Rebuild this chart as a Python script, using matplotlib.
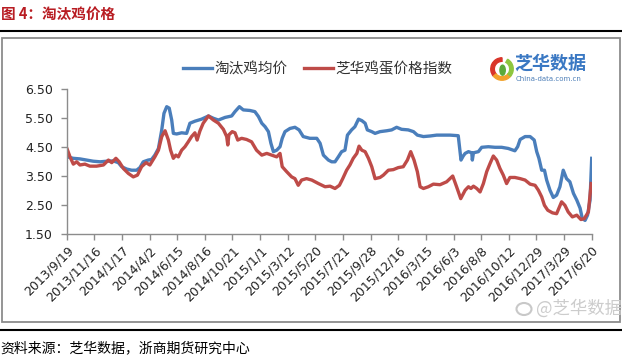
import matplotlib
matplotlib.use("Agg")
import matplotlib.pyplot as plt
from matplotlib.patches import Rectangle, Wedge, Ellipse
from matplotlib.lines import Line2D

plt.rcParams['font.family'] = ['Noto Sans CJK SC', 'DejaVu Sans']

# category labels on the x axis (one tick per label)
dates = ['2013/9/19', '2013/11/16', '2014/1/17', '2014/4/2', '2014/6/15',
         '2014/8/16', '2014/10/21', '2015/1/1', '2015/3/12', '2015/5/20',
         '2015/7/21', '2015/9/28', '2015/12/16', '2016/3/15', '2016/6/3',
         '2016/8/8', '2016/10/12', '2016/12/29', '2017/3/29', '2017/6/20']

# series, x given in label positions (0 = first label)
blue_x = [0.02, 0.24, 0.48, 0.72, 0.96, 1.21, 1.45, 1.69, 1.87, 1.99, 2.17, 2.35,
          2.53, 2.65, 2.77, 2.95, 3.07, 3.19, 3.32, 3.44, 3.52, 3.62, 3.71, 3.80,
          3.86, 3.98, 4.16, 4.34, 4.46, 4.64, 4.88, 5.13, 5.31, 5.49, 5.73, 5.97,
          6.09, 6.25, 6.39, 6.63, 6.81, 6.94, 7.06, 7.18, 7.30, 7.39, 7.48, 7.60,
          7.72, 7.80, 7.90, 8.08, 8.26, 8.41, 8.56, 8.80, 9.05, 9.17, 9.29, 9.47,
          9.59, 9.71, 9.83, 9.95, 10.07, 10.16, 10.31, 10.43, 10.56, 10.68, 10.80,
          10.88, 11.04, 11.16, 11.34, 11.58, 11.76, 11.94, 12.12, 12.36, 12.55,
          12.69, 12.91, 13.15, 13.39, 13.63, 13.87, 14.17, 14.23, 14.27, 14.35,
          14.42, 14.54, 14.66, 14.68, 14.72, 14.90, 15.02, 15.26, 15.50, 15.74,
          15.98, 16.22, 16.32, 16.41, 16.59, 16.77, 16.92, 17.01, 17.09, 17.19,
          17.29, 17.37, 17.49, 17.61, 17.73, 17.85, 17.97, 18.09, 18.21, 18.34,
          18.46, 18.58, 18.66, 18.76, 18.85, 18.94, 19.00]
blue_y = [4.17, 4.12, 4.10, 4.06, 4.02, 4.00, 4.02, 4.03, 3.97, 3.83, 3.75, 3.71,
          3.71, 3.80, 4.00, 4.06, 4.08, 4.23, 4.46, 5.10, 5.67, 5.90, 5.85, 5.44,
          4.98, 4.96, 5.00, 4.98, 5.33, 5.40, 5.47, 5.58, 5.50, 5.44, 5.53, 5.58,
          5.73, 5.90, 5.79, 5.77, 5.73, 5.56, 5.33, 5.21, 5.04, 4.64, 4.35, 4.40,
          4.52, 4.81, 5.04, 5.15, 5.19, 5.10, 4.87, 4.81, 4.81, 4.64, 4.23, 4.06,
          4.00, 4.00, 4.17, 4.35, 4.40, 4.92, 5.10, 5.21, 5.47, 5.42, 5.33,
          5.10, 5.04, 4.98, 5.04, 5.07, 5.10, 5.19, 5.12, 5.10, 5.04,
          4.92, 4.87, 4.89, 4.92, 4.92, 4.92, 4.90, 4.40, 4.06, 4.20,
          4.29, 4.35, 4.31, 4.06, 4.31, 4.35, 4.50, 4.52, 4.50, 4.50,
          4.46, 4.38, 4.52, 4.77, 4.87, 4.87, 4.75, 4.35, 4.12, 3.71,
          3.71, 3.37, 3.02, 2.77, 2.85, 3.14, 3.71, 3.42, 3.31, 2.91,
          2.68, 2.40, 2.04, 1.98, 2.16, 2.68, 4.12]

red_x = [0.02, 0.12, 0.24, 0.36, 0.48, 0.66, 0.84, 1.08, 1.33, 1.51, 1.63, 1.78,
         1.90, 2.05, 2.23, 2.41, 2.56, 2.71, 2.87, 3.01, 3.19, 3.32, 3.44, 3.56,
         3.68, 3.76, 3.86, 3.95, 4.04, 4.16, 4.28, 4.40, 4.52, 4.64, 4.72, 4.82,
         4.94, 5.13, 5.31, 5.49, 5.67, 5.79, 5.83, 5.87, 5.99, 6.09, 6.19, 6.33,
         6.51, 6.69, 6.87, 7.06, 7.24, 7.42, 7.60, 7.72, 7.80, 7.96, 8.14, 8.26,
         8.38, 8.50, 8.68, 8.87, 9.11, 9.35, 9.53, 9.71, 9.87, 9.99, 10.13, 10.25,
         10.37, 10.50, 10.58, 10.68, 10.80, 10.92, 11.04, 11.16, 11.34, 11.46,
         11.64, 11.82, 12.00, 12.18, 12.33, 12.45, 12.57, 12.69, 12.79, 12.91,
         13.09, 13.27, 13.51, 13.75, 13.97, 14.11, 14.26, 14.42, 14.54, 14.63,
         14.72, 14.84, 14.96, 15.08, 15.20, 15.32, 15.44, 15.56, 15.68, 15.80,
         15.92, 16.04, 16.22, 16.41, 16.59, 16.77, 16.95, 17.07, 17.19, 17.29,
         17.41, 17.58, 17.73, 17.91, 18.03, 18.15, 18.30, 18.46, 18.61, 18.73,
         18.88, 18.98]
red_y = [4.43, 4.17, 3.92, 4.00, 3.89, 3.92, 3.85, 3.85, 3.89, 4.06, 3.97, 4.12,
         4.00, 3.77, 3.60, 3.48, 3.54, 3.83, 3.97, 3.89, 4.17, 4.40, 4.87, 5.07,
         4.75, 4.40, 4.12, 4.23, 4.17, 4.40, 4.52, 4.69, 4.87, 5.00, 4.75, 5.06,
         5.33, 5.58, 5.44, 5.33, 5.12, 4.87, 4.58, 4.93, 5.04, 5.00, 4.75, 4.81,
         4.77, 4.69, 4.40, 4.23, 4.29, 4.23, 4.17, 4.29, 3.83, 3.66, 3.48, 3.42,
         3.19, 3.37, 3.42, 3.37, 3.25, 3.14, 3.16, 3.08, 3.19, 3.42, 3.71, 3.89,
         4.12, 4.29, 4.54, 4.40, 4.35, 4.12, 3.83, 3.42, 3.46, 3.54,
         3.71, 3.73, 3.80, 3.83, 4.06, 4.35, 4.06, 3.66, 3.14, 3.08,
         3.14, 3.23, 3.21, 3.31, 3.51, 3.14, 2.73, 3.02, 3.14, 3.08,
         3.16, 3.08, 2.96, 3.25, 3.66, 3.94, 4.20, 4.06, 3.77, 3.54,
         3.25, 3.46, 3.46, 3.42, 3.37, 3.23, 3.19, 3.02, 2.79, 2.50,
         2.33, 2.24, 2.21, 2.62, 2.50, 2.27, 2.10, 2.16, 2.01, 2.04,
         2.27, 3.25]

yticks = [1.5, 2.5, 3.5, 4.5, 5.5, 6.5]

W, H = 622, 360
fig = plt.figure(figsize=(W / 100, H / 100), dpi=100)

def fx(px):
    return px / W

def fy(py):
    return 1 - py / H

# title and frame lines
fig.text(fx(1), fy(14), '图 4：淘汰鸡价格', fontsize=10.5, fontweight='bold',
         color='#B81C22', va='center', ha='left')
fig.add_artist(Line2D([0, 1], [fy(31), fy(31)], color='black', lw=1.5))
fig.add_artist(Line2D([0, 1], [fy(329.5), fy(329.5)], color='black', lw=1.5))
fig.add_artist(Rectangle((fx(2), fy(322)), fx(618), (322 - 37.5) / H,
                         fill=False, edgecolor='#8c8c8c', lw=1.3))
fig.text(fx(0), fy(348), '资料来源：芝华数据，浙商期货研究中心', fontsize=10,
         color='black', va='center', ha='left')

# main axes
ax = fig.add_axes([fx(66.7), fy(234.3), fx(591.7 - 66.7), (234.3 - 89.3) / H])
ax.plot(blue_x, blue_y, color='#4A7EBB', lw=2.4, label='淘汰鸡均价')
ax.plot(red_x, red_y, color='#BE4B48', lw=2.4, label='芝华鸡蛋价格指数')
ax.set_xlim(0, len(dates) - 1)
ax.set_ylim(1.5, 6.5)
ax.set_yticks(yticks)
ax.set_yticklabels(['%.2f' % v for v in yticks], fontsize=9,
                   family='DejaVu Sans', color='#222222')
ax.set_xticks(range(len(dates)))
ax.set_xticklabels(dates, rotation=45, ha='right', va='top',
                   rotation_mode='anchor', fontsize=9, family='DejaVu Sans',
                   color='#222222')
for s in ['top', 'right']:
    ax.spines[s].set_visible(False)
for s in ['left', 'bottom']:
    ax.spines[s].set_color('#8c8c8c')
    ax.spines[s].set_linewidth(1.0)
ax.tick_params(axis='both', direction='out', length=4, color='#8c8c8c', width=1)
ax.tick_params(axis='y', pad=6)
ax.tick_params(axis='x', pad=3)
ax.patch.set_alpha(0)

leg = ax.legend(loc='center left', bbox_to_anchor=(fx(183), fy(69)),
                bbox_transform=fig.transFigure, ncol=2, frameon=False,
                fontsize=10.5, handlelength=2.0, handletextpad=0.15,
                columnspacing=1.1, borderpad=0, borderaxespad=0)
for t in leg.get_texts():
    t.set_color('#333333')

# logo top right
lax = fig.add_axes([fx(490), fy(82), fx(24), 26 / H])
lax.set_xlim(-1, 1)
lax.set_ylim(-1.1, 1.1)
lax.set_aspect('equal')
lax.axis('off')
lax.add_patch(Wedge((0, 0), 0.95, 90, 220, width=0.3, color='#D9352A'))
lax.add_patch(Wedge((0, 0), 0.95, 220, 320, width=0.3, color='#F2A22B'))
lax.add_patch(Wedge((0, 0), 0.95, 320, 60, width=0.3, color='#8DC63F'))
lax.add_patch(Ellipse((0.05, -0.1), 0.45, 0.85, color='#5BAA3A'))
fig.text(fx(514), fy(63), '芝华数据', fontsize=13, fontweight='bold',
         color='#3A78C3', va='center', ha='left')
fig.text(fx(516), fy(79), 'China-data.com.cn', fontsize=5, color='#4D7FB8',
         va='center', ha='left', family='DejaVu Sans')

# watermark bottom right
fig.add_artist(Ellipse((fx(524), fy(309)), 15 / W, 12 / H, fill=False,
                       edgecolor='#c8c8c8', lw=1.5))
fig.text(fx(536), fy(308), '@芝华数据', fontsize=12.5, color='#cccccc',
         va='center', ha='left')

fig.savefig('out.png', dpi=100)
